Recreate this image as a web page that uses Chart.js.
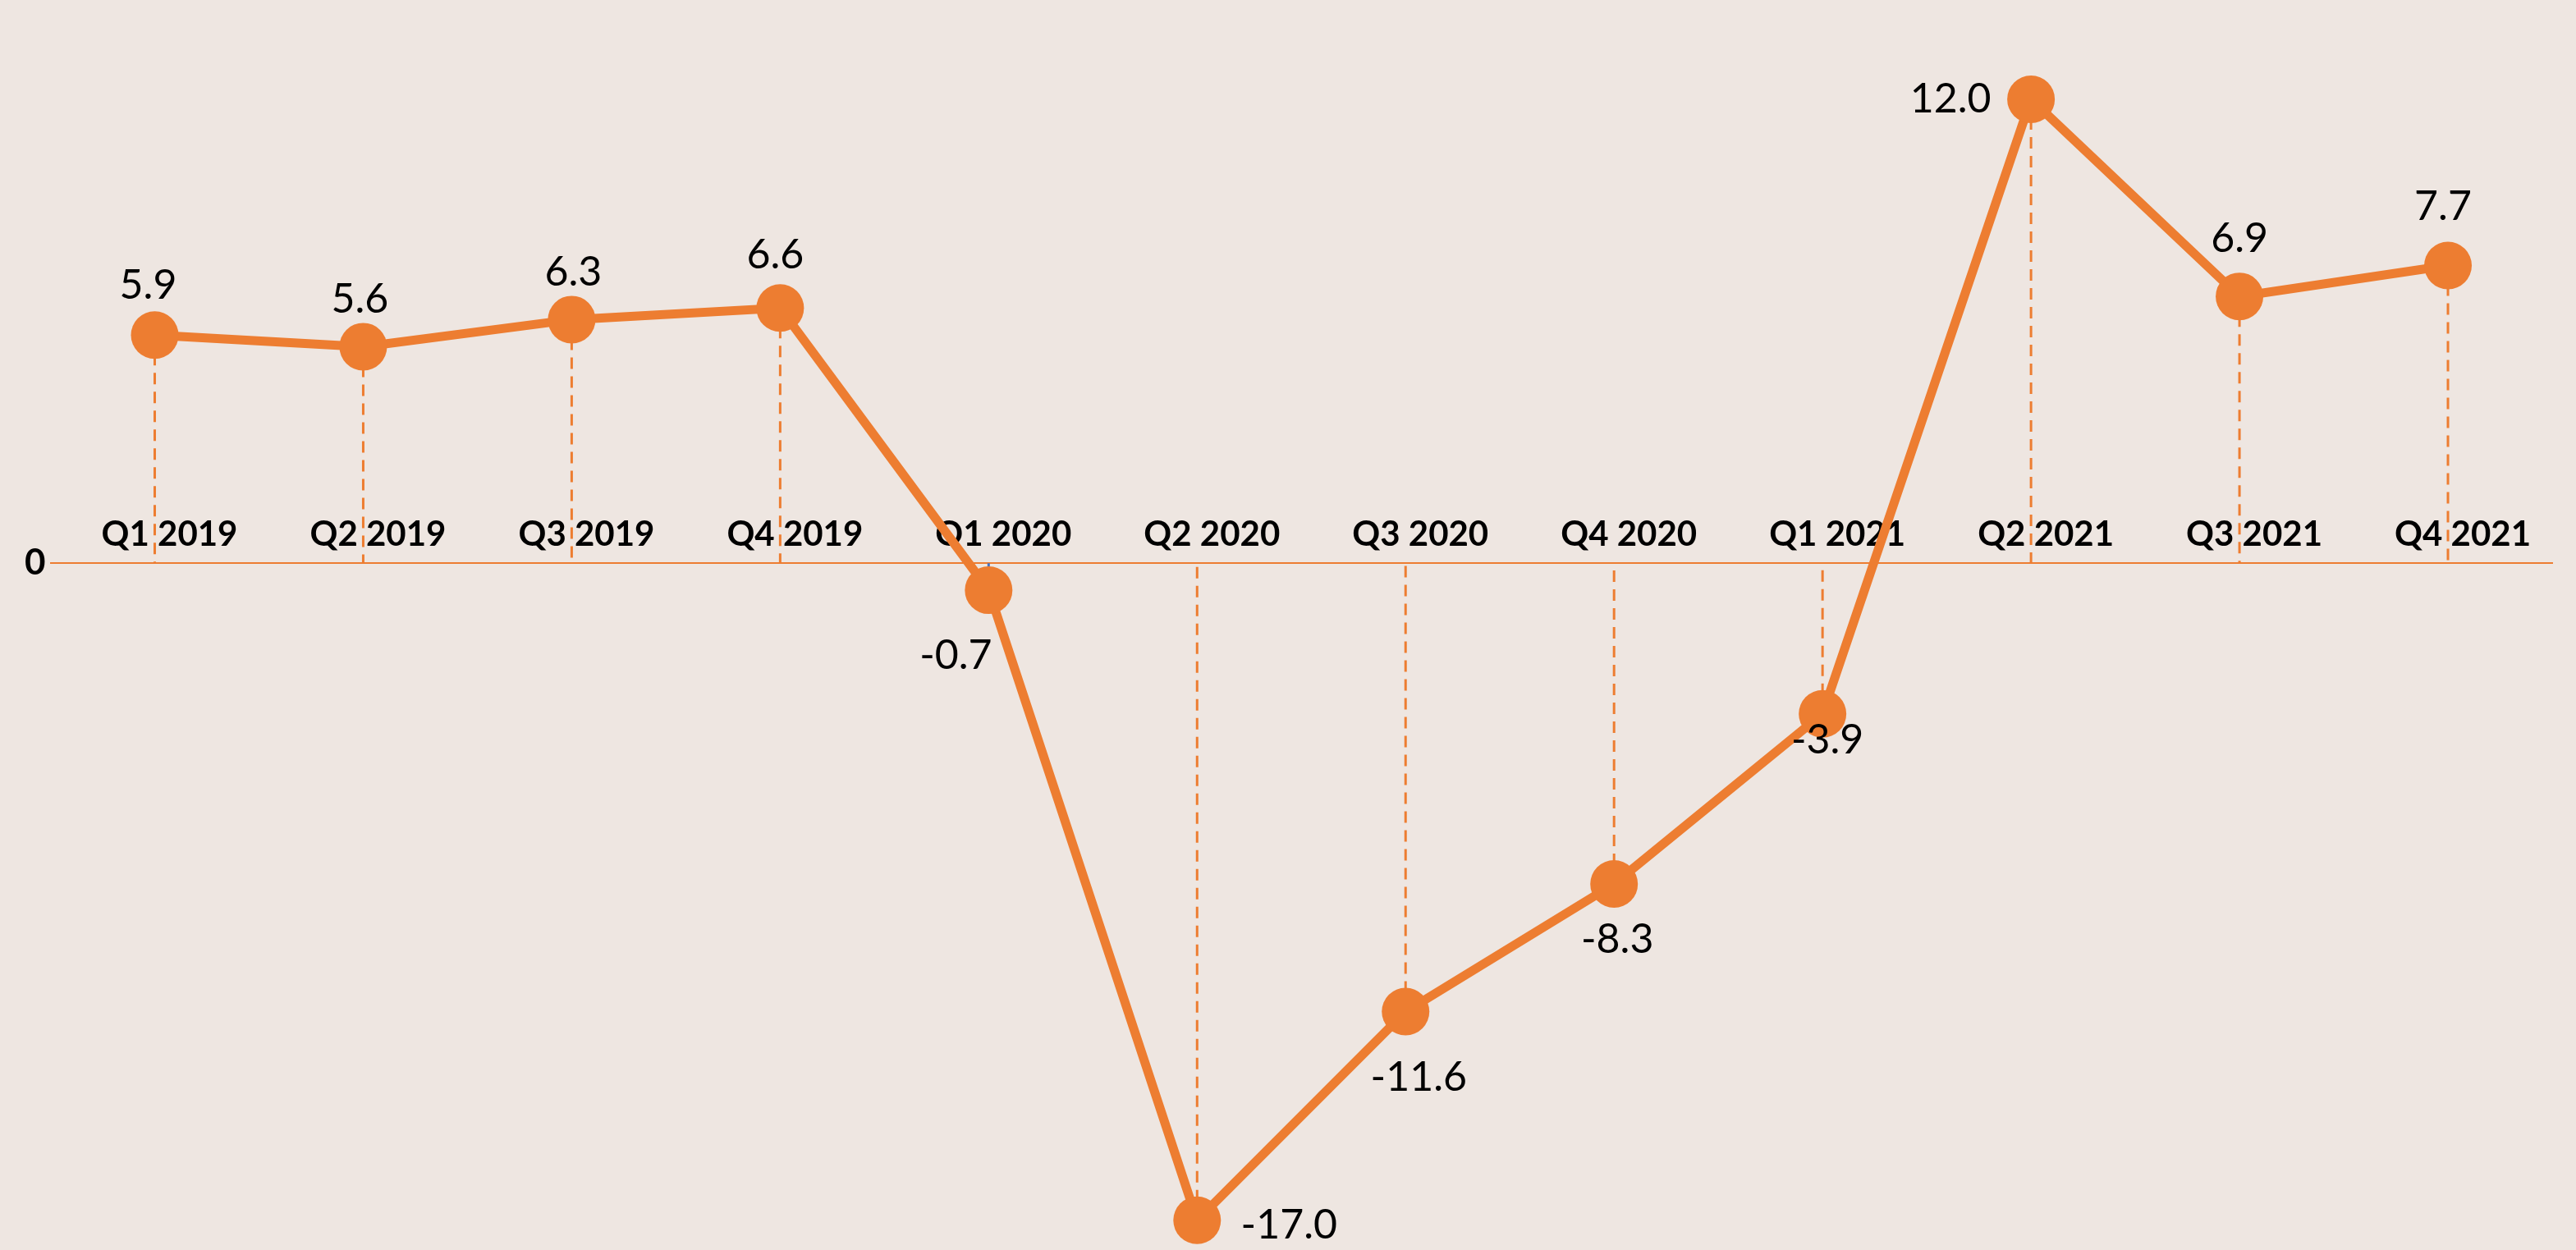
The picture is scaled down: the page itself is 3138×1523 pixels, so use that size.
<!DOCTYPE html>
<html>
<head>
<meta charset="utf-8">
<title>Quarterly growth</title>
<script src="https://cdn.jsdelivr.net/npm/chart.js@4.4.0/dist/chart.umd.min.js"></script>
<style>
    html, body { margin: 0; padding: 0; background: #EEE6E1; }
    #wrap { width: 3138px; height: 1523px; position: relative; }
</style>
</head>
<body>
<div id="wrap"><canvas id="growthChart"></canvas></div>
<script>
// Data
const quarters = ["Q1 2019", "Q2 2019", "Q3 2019", "Q4 2019", "Q1 2020", "Q2 2020",
                  "Q3 2020", "Q4 2020", "Q1 2021", "Q2 2021", "Q3 2021", "Q4 2021"];
const growth = [5.9, 5.6, 6.3, 6.6, -0.7, -17.0, -11.6, -8.3, -3.9, 12.0, 6.9, 7.7];
const yTicks = [0];

const orange = "#ED7D31";
const blue = "#4472C4";

// where each value label sits relative to its point (px)
const labelShift = [
    [-8, -60], [-4, -58], [2, -58], [-6, -64], [-40, 80], [112, 6],
    [16, 80], [4, 68], [6, 32], [-98, 0], [0, -70], [-6, -72]
];
// drop line colours (the Q1 2020 one is blue in the original)
const dropColours = growth.map((v, i) => i === 4 ? blue : orange);

// dashed lines from each point down/up to zero
const dropLines = {
    id: "dropLines",
    beforeDatasetsDraw(chart) {
        const ctx = chart.ctx;
        const zero = chart.scales.y.getPixelForValue(0);
        const pts = chart.getDatasetMeta(0).data;
        ctx.save();
        ctx.lineWidth = 3;
        ctx.setLineDash([14, 9]);
        pts.forEach((p, i) => {
            ctx.strokeStyle = dropColours[i];
            ctx.beginPath();
            ctx.moveTo(p.x, p.y);
            ctx.lineTo(p.x, zero);
            ctx.stroke();
        });
        ctx.restore();
    }
};

// value labels next to the points
const valueLabels = {
    id: "valueLabels",
    afterDatasetsDraw(chart) {
        const ctx = chart.ctx;
        const pts = chart.getDatasetMeta(0).data;
        ctx.save();
        ctx.font = "50px Lato";
        ctx.fillStyle = "#000";
        ctx.textAlign = "center";
        ctx.textBaseline = "middle";
        pts.forEach((p, i) => {
            const s = labelShift[i];
            ctx.fillText(growth[i].toFixed(1), p.x + s[0], p.y + s[1]);
        });
        ctx.restore();
    }
};

const ctx = document.getElementById("growthChart").getContext("2d");

new Chart(ctx, {
    type: "line",
    data: {
        labels: quarters,
        datasets: [{
            data: growth,
            borderColor: orange,
            backgroundColor: orange,
            borderWidth: 11,
            pointRadius: 29,
            pointHoverRadius: 29,
            pointBorderWidth: 0,
            tension: 0,
            clip: false
        }]
    },
    options: {
        responsive: true,
        maintainAspectRatio: false,
        animation: false,
        events: [],
        layout: { padding: { left: 24, right: 14, top: 0, bottom: 0 } },
        plugins: {
            legend: { display: false },
            tooltip: { enabled: false }
        },
        scales: {
            x: {
                type: "category",
                offset: true,
                position: { y: 0 },
                grid: { color: "transparent", drawTicks: false },
                border: { display: true, color: orange, width: 2 },
                ticks: {
                    color: "#000",
                    font: { family: "Lato", size: 42, weight: "bold" },
                    padding: -60,
                    labelOffset: 18,
                    maxRotation: 0,
                    autoSkip: false
                }
            },
            y: {
                min: -17.08,
                max: 13.88,
                grid: { display: false, drawTicks: false },
                border: { display: false },
                afterBuildTicks: axis => {
                    axis.ticks = yTicks.map(v => ({ value: v }));
                },
                ticks: {
                    color: "#000",
                    font: { family: "Lato", size: 44, weight: "bold" },
                    padding: 6
                }
            }
        }
    },
    plugins: [dropLines, valueLabels]
});
</script>
</body>
</html>
